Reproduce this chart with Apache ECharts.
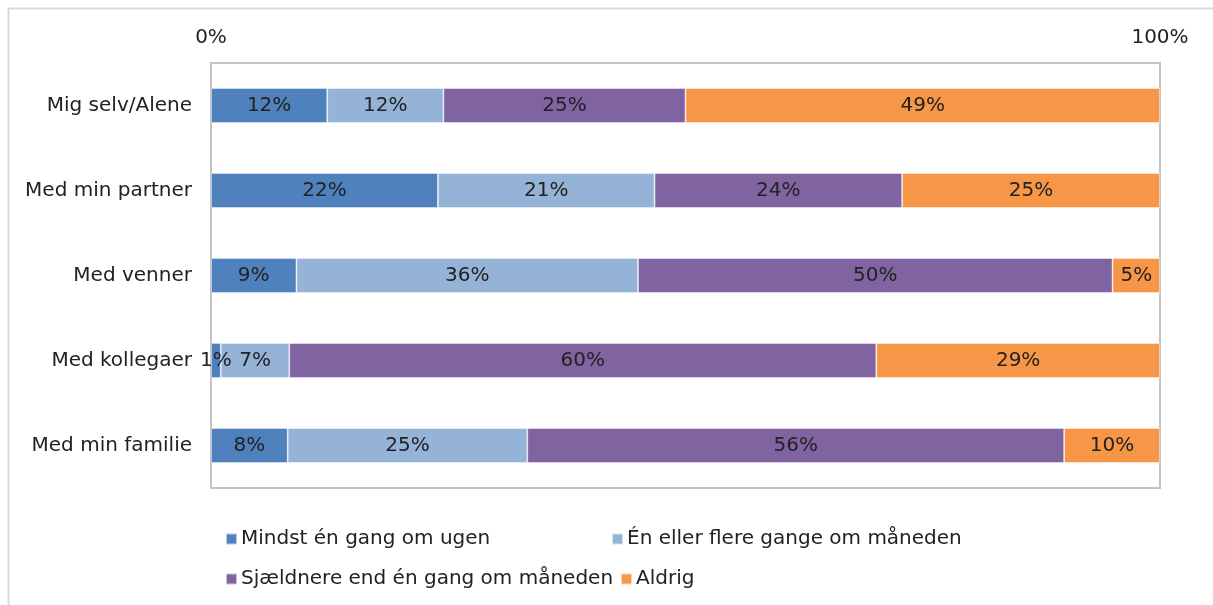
<!doctype html>
<html>
<head>
<meta charset="utf-8">
<title>Stacked 100% bar</title>
<style>
  html, body { margin: 0; padding: 0; background: #fff; }
  #main { width: 1213px; height: 605px; }
</style>
</head>
<body>
<div id="main"></div>
<script src="https://cdn.jsdelivr.net/npm/echarts@6/dist/echarts.min.js"></script>
<script>
var categories = ['Mig selv/Alene', 'Med min partner', 'Med venner', 'Med kollegaer', 'Med min familie'];
var seriesNames = ['Mindst én gang om ugen', 'Én eller flere gange om måneden', 'Sjældnere end én gang om måneden', 'Aldrig'];
var weekly = [12, 22, 9, 1, 8];
var monthly = [12, 21, 36, 7, 25];
var rarely = [25, 24, 50, 60, 56];
var never = [49, 25, 5, 29, 10];
var axisTicks = ['0%', '100%'];
var colors = ['#4f81bd', '#95b3d7', '#8064a2', '#f79646'];

var allValues = [weekly, monthly, rarely, never];
// Excel 100% stacked: each row is scaled to its own total
var rowSums = categories.map(function (c, i) {
    return allValues.reduce(function (s, arr) { return s + arr[i]; }, 0);
});

var font = 'DejaVu Sans';
var fs = 20;
var txt = '#222';
var chart = echarts.init(document.getElementById('main'), null, { devicePixelRatio: 1 });

var series = allValues.map(function (arr, k) {
    return {
        name: seriesNames[k],
        type: 'bar',
        stack: 'total',
        barWidth: 35,
        itemStyle: { color: colors[k], borderColor: 'rgba(255,255,255,0.6)', borderWidth: 0.8 },
        label: {
            show: true,
            position: 'inside',
            color: txt,
            fontFamily: font,
            fontSize: fs,
            formatter: function (p) { return arr[p.dataIndex] + '%'; }
        },
        data: arr.map(function (v, i) { return v / rowSums[i] * 100; })
    };
});

function legendAt(name, left, top) {
    return {
        data: [name],
        left: left,
        top: top,
        icon: 'rect',
        itemWidth: 11,
        itemHeight: 11,
        itemGap: 0,
        padding: 0,
        selectedMode: false,
        textStyle: { fontFamily: font, fontSize: fs, color: txt, padding: [0, 0, 0, -1] }
    };
}

chart.setOption({
    animation: false,
    color: colors,
    graphic: [{
        type: 'rect',
        left: 6, top: 6,
        shape: { width: 1230, height: 620 },
        style: { fill: 'none', stroke: '#d9d9d9', lineWidth: 2 },
        silent: true
    }],
    grid: {
        left: 211, right: 53, top: 63, bottom: 117,
        show: true,
        borderColor: '#c4c4c4',
        borderWidth: 2
    },
    legend: [
        legendAt(seriesNames[0], 225, 529),
        legendAt(seriesNames[1], 611, 529),
        legendAt(seriesNames[2], 225, 569),
        legendAt(seriesNames[3], 620, 569)
    ],
    xAxis: {
        type: 'value',
        position: 'top',
        min: 0,
        max: 100,
        interval: 100,
        axisLine: { show: false },
        axisTick: { show: false },
        splitLine: { show: false },
        axisLabel: {
            margin: 15,
            fontFamily: font,
            fontSize: fs,
            color: txt,
            formatter: function (v) { return v === 0 ? axisTicks[0] : axisTicks[1]; }
        }
    },
    yAxis: {
        type: 'category',
        inverse: true,
        data: categories,
        axisLine: { show: false },
        axisTick: { show: false },
        axisLabel: {
            margin: 19,
            fontFamily: font,
            fontSize: fs,
            color: txt,
            padding: [4, 0, 0, 0]
        }
    },
    series: series
});
</script>
</body>
</html>
